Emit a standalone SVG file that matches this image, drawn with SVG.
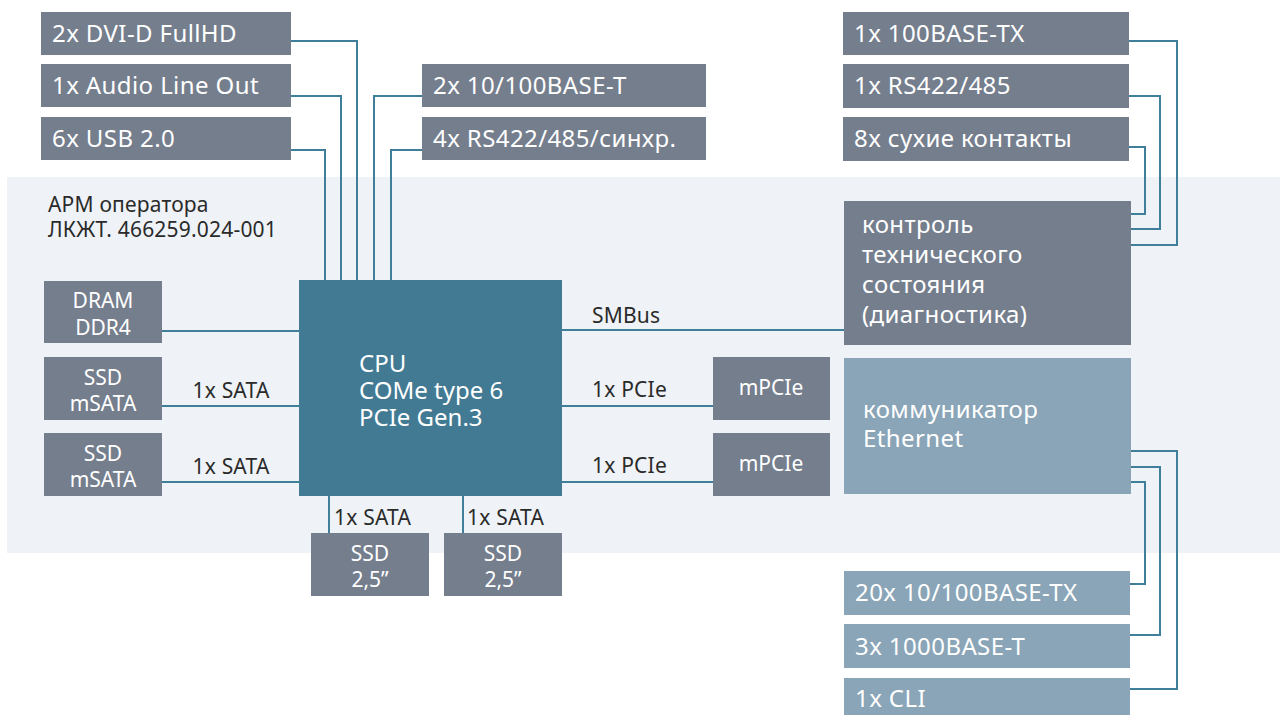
<svg xmlns="http://www.w3.org/2000/svg" width="1280" height="715" viewBox="0 0 1280 715">
<style>
.g{fill:#747e8d}
.c{fill:#427a94}
.b{fill:#8aa5b7}
.t{font-family:"Noto Sans","Open Sans",sans-serif;fill:#fff;font-size:24px;letter-spacing:0.4px}
.p{font-family:"Noto Sans","Open Sans",sans-serif;fill:#fff;font-size:24px}
.s{font-family:"Noto Sans","Open Sans",sans-serif;fill:#fff;font-size:21px;text-anchor:middle}
.d{font-family:"Noto Sans","Open Sans",sans-serif;fill:#2a2a2a;font-size:21px;letter-spacing:0.2px}
.ln{fill:none;stroke:#3f7f99;stroke-width:2}
</style>
<rect x="7" y="177" width="1273" height="376" fill="#eff3f7"/>
<text class="d" x="48" y="212">АРМ оператора</text>
<text class="d" x="48" y="237">ЛКЖТ. 466259.024-001</text>
<g id="connectors">
<polyline class="ln" points="291,41 357,41 357,281"/>
<polyline class="ln" points="291,96 341,96 341,281"/>
<polyline class="ln" points="291,150 325,150 325,281"/>
<polyline class="ln" points="422,96 374,96 374,281"/>
<polyline class="ln" points="422,150 391,150 391,281"/>
<polyline class="ln" points="1129,41 1177,41 1177,245 1131,245"/>
<polyline class="ln" points="1129,96 1160,96 1160,229 1131,229"/>
<polyline class="ln" points="1129,147 1145,147 1145,214 1131,214"/>
<polyline class="ln" points="1131,451 1177,451 1177,689 1130,689"/>
<polyline class="ln" points="1131,467 1160,467 1160,635 1130,635"/>
<polyline class="ln" points="1131,482 1145,482 1145,584 1130,584"/>
<line class="ln" x1="162" y1="331" x2="299" y2="331"/>
<line class="ln" x1="162" y1="406" x2="299" y2="406"/>
<line class="ln" x1="162" y1="482" x2="299" y2="482"/>
<line class="ln" x1="562" y1="330" x2="844" y2="330"/>
<line class="ln" x1="562" y1="406" x2="713" y2="406"/>
<line class="ln" x1="562" y1="482" x2="713" y2="482"/>
<line class="ln" x1="329" y1="495" x2="329" y2="533"/>
<line class="ln" x1="463" y1="495" x2="463" y2="533"/>
<text class="d" x="231" y="398" text-anchor="middle">1x SATA</text>
<text class="d" x="231" y="474" text-anchor="middle">1x SATA</text>
<text class="d" x="592" y="323">SMBus</text>
<text class="d" x="592" y="397">1x PCIe</text>
<text class="d" x="592" y="473">1x PCIe</text>
<text class="d" x="334" y="525">1x SATA</text>
<text class="d" x="467" y="525">1x SATA</text>
</g>
<g id="dvi"><rect class="g" x="41" y="12" width="250" height="43"/><text class="t" x="52" y="42">2x DVI-D FullHD</text></g>
<g id="audio"><rect class="g" x="41" y="64" width="250" height="43"/><text class="t" x="52" y="94">1x Audio Line Out</text></g>
<g id="usb"><rect class="g" x="41" y="117" width="250" height="43"/><text class="t" x="52" y="147">6x USB 2.0</text></g>
<g id="eth100"><rect class="g" x="422" y="64" width="284" height="43"/><text class="t" x="433" y="94">2x 10/100BASE-T</text></g>
<g id="rs422"><rect class="g" x="422" y="117" width="284" height="43"/><text class="t" x="433" y="147">4x RS422/485/синхр.</text></g>
<g id="tx100"><rect class="g" x="843" y="12" width="286" height="43"/><text class="t" x="854" y="42">1x 100BASE-TX</text></g>
<g id="rs485"><rect class="g" x="843" y="64" width="286" height="44"/><text class="t" x="854" y="94">1x RS422/485</text></g>
<g id="dry"><rect class="g" x="843" y="117" width="286" height="44"/><text class="t" x="854" y="147">8x сухие контакты</text></g>
<g id="control"><rect class="g" x="844" y="201" width="287" height="144"/>
<text class="t" x="862" y="233">контроль</text>
<text class="t" x="862" y="263">технического</text>
<text class="t" x="862" y="293">состояния</text>
<text class="t" x="862" y="323">(диагностика)</text></g>
<g id="dram"><rect class="g" x="44" y="281" width="118" height="62"/><text class="s" x="103" y="308">DRAM</text><text class="s" x="103" y="335">DDR4</text></g>
<g id="msata1"><rect class="g" x="44" y="357" width="118" height="63"/><text class="s" x="103" y="385">SSD</text><text class="s" x="103" y="411">mSATA</text></g>
<g id="msata2"><rect class="g" x="44" y="433" width="118" height="63"/><text class="s" x="103" y="461">SSD</text><text class="s" x="103" y="487">mSATA</text></g>
<g id="cpu"><rect class="c" x="299" y="280" width="263" height="216"/>
<text class="p" x="359" y="372">CPU</text>
<text class="p" x="359" y="399">COMe type 6</text>
<text class="p" x="359" y="426">PCIe Gen.3</text></g>
<g id="mpcie1"><rect class="g" x="713" y="357" width="117" height="63"/><text class="s" x="771" y="395">mPCIe</text></g>
<g id="mpcie2"><rect class="g" x="713" y="433" width="117" height="63"/><text class="s" x="771" y="471">mPCIe</text></g>
<g id="ssd1"><rect class="g" x="311" y="533" width="118" height="63"/><text class="s" x="370" y="561">SSD</text><text class="s" x="370" y="587">2,5”</text></g>
<g id="ssd2"><rect class="g" x="444" y="533" width="118" height="63"/><text class="s" x="503" y="561">SSD</text><text class="s" x="503" y="587">2,5”</text></g>
<g id="comm"><rect class="b" x="844" y="358" width="287" height="136"/>
<text class="t" x="863" y="418">коммуникатор</text>
<text class="t" x="863" y="447">Ethernet</text></g>
<g id="tx20"><rect class="b" x="844" y="571" width="286" height="44"/><text class="t" x="855" y="601">20x 10/100BASE-TX</text></g>
<g id="t1000"><rect class="b" x="844" y="624" width="286" height="44"/><text class="t" x="855" y="655">3x 1000BASE-T</text></g>
<g id="cli"><rect class="b" x="844" y="678" width="286" height="37"/><text class="t" x="855" y="707">1x CLI</text></g>
</svg>
